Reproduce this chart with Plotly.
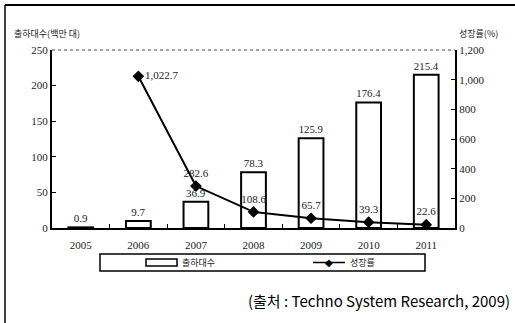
import plotly.graph_objects as go

years = ["2005", "2006", "2007", "2008", "2009", "2010", "2011"]
shipments = [0.9, 9.7, 36.9, 78.3, 125.9, 176.4, 215.4]          # 출하대수 (백만 대)
growth_years = ["2006", "2007", "2008", "2009", "2010", "2011"]
growth = [1022.7, 282.6, 108.6, 65.7, 39.3, 22.6]                # 성장률 (%)

left_ticks = [0, 50, 100, 150, 200, 250]
right_ticks = [0, 200, 400, 600, 800, 1000, 1200]

num_font = dict(family="Liberation Serif, DejaVu Serif, serif", size=11, color="#222")
kr_font = dict(family="Noto Sans CJK KR", size=9, color="#222")

fig = go.Figure()

fig.add_trace(go.Bar(
    x=years, y=shipments, name="출하대수",
    marker=dict(color="white", line=dict(color="black", width=2)),
    width=0.43,
    text=[f"{v:.1f}" for v in shipments], textposition="outside",
    textfont=num_font, cliponaxis=False,
))

fig.add_trace(go.Scatter(
    x=growth_years, y=growth, yaxis="y2", name="성장률",
    mode="lines+markers+text",
    line=dict(color="black", width=2),
    marker=dict(symbol="diamond", size=9, color="black"),
    text=[f"{v:,.1f}" for v in growth],
    textposition=["middle right"] + ["top center"] * (len(growth) - 1),
    textfont=num_font, cliponaxis=False,
))

fig.update_layout(
    width=515, height=323,
    margin=dict(l=52, r=60, t=50, b=95, autoexpand=False),
    paper_bgcolor="white", plot_bgcolor="white",
    showlegend=False,
    bargap=0.57,
    xaxis=dict(
        type="category", categoryorder="array", categoryarray=years,
        showline=True, linecolor="black", linewidth=2,
        ticks="inside", ticklen=4, tickcolor="black", tickson="boundaries",
        ticklabelstandoff=6,
        tickfont=num_font, showgrid=False, zeroline=False,
    ),
    yaxis=dict(
        range=[0, 250], tickvals=left_ticks,
        showline=True, linecolor="black", linewidth=2,
        ticks="inside", ticklen=4, tickcolor="black",
        tickfont=num_font, showgrid=False, zeroline=False,
    ),
    yaxis2=dict(
        range=[0, 1200], tickvals=right_ticks, tickformat=",",
        overlaying="y", side="right",
        showline=True, linecolor="black", linewidth=2,
        ticks="inside", ticklen=4, tickcolor="black",
        tickfont=num_font, showgrid=False, zeroline=False,
    ),
)

# dotted upper border of the plot area
fig.add_shape(type="line", xref="paper", yref="paper", x0=0, x1=1, y0=1, y1=1,
              line=dict(color="#444", width=1, dash="dot"))

# axis titles
fig.add_annotation(text="출하대수(백만 대)", xref="paper", yref="paper",
                   x=-52 / 403 + 12 / 403, y=1 + 17 / 178, xanchor="left", yanchor="middle",
                   showarrow=False, font=kr_font)
fig.add_annotation(text="성장률(%)", xref="paper", yref="paper",
                   x=1 + 2 / 403, y=1 + 17 / 178, xanchor="left", yanchor="middle",
                   showarrow=False, font=kr_font)

# legend box drawn below the axis
def px_x(p):
    return (p - 52) / 403

def px_y(p):
    return (228 - p) / 178

fig.add_shape(type="rect", xref="paper", yref="paper",
              x0=px_x(100), x1=px_x(425), y0=px_y(271), y1=px_y(254),
              line=dict(color="black", width=1.5), fillcolor="white")
fig.add_shape(type="rect", xref="paper", yref="paper",
              x0=px_x(146), x1=px_x(177), y0=px_y(266), y1=px_y(259),
              line=dict(color="black", width=1.5), fillcolor="white")
fig.add_annotation(text="출하대수", xref="paper", yref="paper",
                   x=px_x(180), y=px_y(262.5), xanchor="left", yanchor="middle",
                   showarrow=False, font=kr_font)
fig.add_shape(type="line", xref="paper", yref="paper",
              x0=px_x(313), x1=px_x(345), y0=px_y(262.5), y1=px_y(262.5),
              line=dict(color="black", width=1.5))
fig.add_annotation(text="◆", xref="paper", yref="paper",
                   x=px_x(329), y=px_y(262.5), xanchor="center", yanchor="middle",
                   showarrow=False, font=dict(family="DejaVu Sans", size=10, color="black"))
fig.add_annotation(text="성장률", xref="paper", yref="paper",
                   x=px_x(348), y=px_y(262.5), xanchor="left", yanchor="middle",
                   showarrow=False, font=kr_font)

# source note
fig.add_annotation(text="(출처 : Techno System Research, 2009)", xref="paper", yref="paper",
                   x=px_x(512), y=px_y(300), xanchor="right", yanchor="middle",
                   showarrow=False,
                   font=dict(family="Noto Sans CJK KR", size=15, color="black"))

# outer frame: top and left rules
fig.add_shape(type="line", xref="paper", yref="paper",
              x0=px_x(5), x1=px_x(515), y0=px_y(5), y1=px_y(5),
              line=dict(color="black", width=2))
fig.add_shape(type="line", xref="paper", yref="paper",
              x0=px_x(5), x1=px_x(5), y0=px_y(5), y1=px_y(323),
              line=dict(color="black", width=1.5))

fig.write_html("out.html")
